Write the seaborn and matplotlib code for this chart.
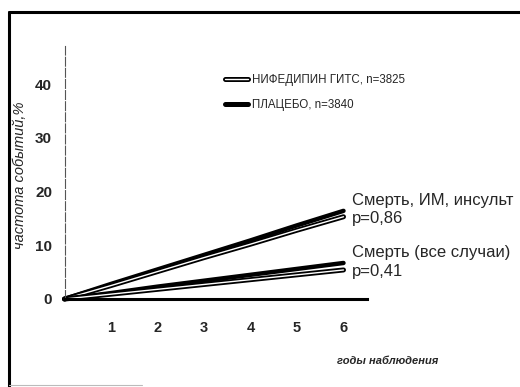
import matplotlib
matplotlib.use("Agg")
import matplotlib.pyplot as plt
import matplotlib.patheffects as pe
from matplotlib.lines import Line2D
import seaborn as sns
import pandas as pd

years = [0, 1, 2, 3, 4, 5, 6]
composite_placebo = [0, 2.8, 5.5, 8.2, 10.9, 13.7, 16.4]
composite_nifedipine = [0, 2.5, 5.1, 7.7, 10.2, 12.8, 15.3]
death_placebo = [0, 1.1, 2.3, 3.4, 4.5, 5.6, 6.7]
death_nifedipine = [0, 0.9, 1.8, 2.7, 3.6, 4.5, 5.4]

series_names = ["НИФЕДИПИН ГИТС, n=3825", "ПЛАЦЕБО, n=3840"]
yticks = [0, 10, 20, 30, 40]
xticks = [1, 2, 3, 4, 5, 6]

rows = []
for name, group, vals in [
    (series_names[1], "comp", composite_placebo),
    (series_names[0], "comp", composite_nifedipine),
    (series_names[1], "death", death_placebo),
    (series_names[0], "death", death_nifedipine),
]:
    for x, y in zip(years, vals):
        rows.append({"year": x, "rate": y, "arm": name, "endpoint": group})
df = pd.DataFrame(rows)

sns.set_style("white")
plt.rcParams["font.family"] = ["Liberation Sans", "DejaVu Sans"]

fig = plt.figure(figsize=(5.2, 3.87), dpi=100)
W, H = 520, 387
ax = fig.add_axes([64.5 / W, 88 / H, 6.5 * 46.5 / W, 47 * 5.375 / H])

for ep in ["comp", "death"]:
    sub = df[df["endpoint"] == ep]
    sns.lineplot(data=sub[sub["arm"] == series_names[1]], x="year", y="rate",
                 ax=ax, color="black", lw=3.2, legend=False, clip_on=False)
    sns.lineplot(data=sub[sub["arm"] == series_names[0]], x="year", y="rate",
                 ax=ax, color="white", lw=1.0, legend=False, clip_on=False,
                 path_effects=[pe.Stroke(linewidth=3.6, foreground="black"), pe.Normal()])

ax.set_xlim(0, 6.5)
ax.set_ylim(0, 47)
ax.set_xticks(xticks)
ax.set_yticks(yticks)
ax.set_xticklabels([str(t) for t in xticks], fontsize=10.5, fontweight="bold")
ax.set_yticklabels([str(t) for t in yticks], fontsize=11, fontweight="bold")
ax.tick_params(axis="x", length=0, pad=16)
ax.tick_params(axis="y", length=0, pad=9)
ax.set_xlabel("")
ax.set_ylabel("")
for s in ["top", "right"]:
    ax.spines[s].set_visible(False)
ax.spines["bottom"].set_linewidth(2.2)
ax.spines["bottom"].set_color("black")
ax.spines["left"].set_linewidth(0.8)
ax.spines["left"].set_color("#555555")
ax.spines["left"].set_linestyle((0, (8, 2)))

# legend
h_nif = Line2D([0], [0], color="white", lw=1.0,
               path_effects=[pe.Stroke(linewidth=3.6, foreground="black"), pe.Normal()])
h_pla = Line2D([0], [0], color="black", lw=3.6)
leg = ax.legend([h_nif, h_pla], series_names, loc="upper left",
                bbox_to_anchor=(150 / 302, 1 - 17 / 252.6), frameon=False,
                fontsize=8.3, handlelength=2.0, handletextpad=0.3, labelspacing=1.15)

ax.text(6.18, 18.4, "Смерть, ИМ, инсульт", fontsize=12, va="center", ha="left", clip_on=False)
ax.text(6.18, 14.9, "p=0,86", fontsize=12, va="center", ha="left", clip_on=False)
ax.text(6.18, 8.7, "Смерть (все случаи)", fontsize=12, va="center", ha="left", clip_on=False)
ax.text(6.18, 5.2, "p=0,41", fontsize=12, va="center", ha="left", clip_on=False)

fig.text(20 / W, 1 - 175 / H, "частота событий,%", rotation=90, fontsize=10.5,
         style="italic", ha="center", va="center")
fig.text(388 / W, 1 - 361 / H, "годы наблюдения", fontsize=8, style="italic",
         fontweight="bold", ha="center", va="center")

# frame lines
fig.add_artist(Line2D([9 / W, 1], [1 - 12 / H, 1 - 12 / H], color="black", lw=2.2,
                      transform=fig.transFigure))
fig.add_artist(Line2D([9 / W, 9 / W], [0, 1 - 12 / H], color="black", lw=2.2,
                      transform=fig.transFigure))
fig.add_artist(Line2D([9 / W, 142 / W], [1 - 385 / H, 1 - 385 / H], color="#bbbbbb", lw=0.8,
                      transform=fig.transFigure))

fig.savefig("out.png", dpi=100)
